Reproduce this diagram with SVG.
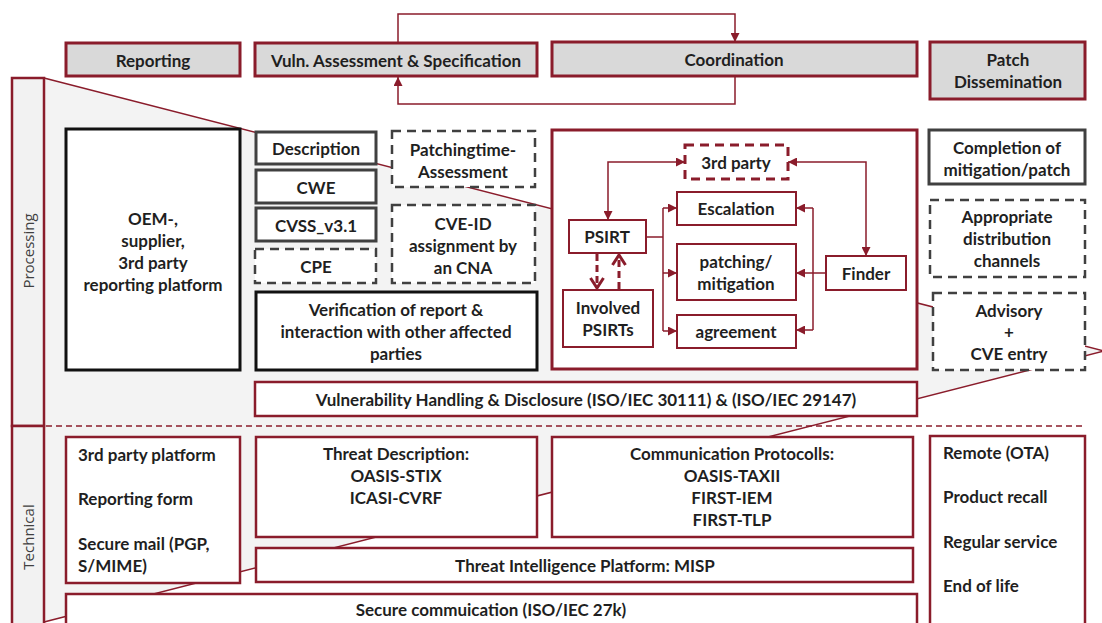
<svg xmlns="http://www.w3.org/2000/svg" width="1102" height="623" viewBox="0 0 1102 623">
<style>
.t{font-family:Lato,"Open Sans",sans-serif;font-weight:bold;font-size:17px;fill:#1f1f1f;text-anchor:middle;dominant-baseline:central}
.l{text-anchor:start}
.side{font-family:"Open Sans",sans-serif;font-weight:normal;font-size:15px;fill:#404040;text-anchor:middle;dominant-baseline:central}
.hdr{fill:#d9d9d9;stroke:#8a1c2b;stroke-width:3}
.rb{fill:#fff;stroke:#8a1c2b;stroke-width:2.5}
.rbt{fill:#fff;stroke:#8a1c2b;stroke-width:2}
.gb{fill:#fff;stroke:#404040;stroke-width:3}
.bb{fill:#fff;stroke:#111;stroke-width:3}
.db{fill:#fff;stroke:#404040;stroke-width:2.5;stroke-dasharray:9 6}
.ln{fill:none;stroke:#8a1c2b;stroke-width:1.5}
.dl{fill:none;stroke:#8a1c2b;stroke-width:3;stroke-dasharray:7 4}
</style>
<defs>
<marker id="ah" markerUnits="userSpaceOnUse" markerWidth="9" markerHeight="9" viewBox="0 0 10 10" refX="10" refY="5" orient="auto-start-reverse">
<path d="M0,0 L10,5 L0,10 z" fill="#8a1c2b"/>
</marker>
<marker id="ch" markerUnits="userSpaceOnUse" markerWidth="16" markerHeight="16" viewBox="0 0 16 16" refX="13" refY="8" orient="auto" overflow="visible">
<path d="M3,1.5 L13,8 L3,14.5" fill="none" stroke="#8a1c2b" stroke-width="3"/>
</marker>
</defs>
<rect x="0" y="0" width="1102" height="623" fill="#fff"/>
<g id="wedge">
<polygon points="44,78 1104,351 44,622" fill="#f3f3f3" stroke="#8a1c2b" stroke-width="1.5"/>
</g>
<g id="lane-processing">
<rect x="12" y="78" width="32" height="348" fill="#f2f2f2" stroke="#8a1c2b" stroke-width="2.5"/>
<text class="side" transform="translate(28,251) rotate(-90)">Processing</text>
</g>
<g id="lane-technical">
<rect x="12" y="426" width="32" height="210" fill="#f2f2f2" stroke="#8a1c2b" stroke-width="2.5"/>
<text class="side" transform="translate(28,537) rotate(-90)">Technical</text>
</g>
<g id="divider">
<line x1="46" y1="426" x2="1086" y2="426" stroke="#8a1c2b" stroke-width="1.5" stroke-dasharray="6 4"/>
</g>
<g id="h-reporting"><rect class="hdr" x="66" y="43" width="174" height="33"/><text class="t" x="153" y="60">Reporting</text></g>
<g id="h-vuln"><rect class="hdr" x="255" y="43" width="282" height="33"/><text class="t" x="396" y="60">Vuln. Assessment &amp; Specification</text></g>
<g id="h-coord"><rect class="hdr" x="552" y="42" width="365" height="34"/><text class="t" x="734" y="59">Coordination</text></g>
<g id="h-patch"><rect class="hdr" x="930" y="42" width="155" height="57"/><text class="t" x="1008" y="59">Patch</text><text class="t" x="1008" y="81">Dissemination</text></g>

<g id="oem"><rect class="bb" x="66" y="129" width="174" height="241"/>
<text class="t" x="153" y="218">OEM-,</text><text class="t" x="153" y="240">supplier,</text><text class="t" x="153" y="262">3rd party</text><text class="t" x="153" y="284">reporting platform</text></g>
<g id="description"><rect class="gb" x="256" y="132" width="120" height="32"/><text class="t" x="316" y="148">Description</text></g>
<g id="cwe"><rect class="gb" x="256" y="170" width="120" height="33"/><text class="t" x="316" y="187">CWE</text></g>
<g id="cvss"><rect class="gb" x="256" y="208" width="120" height="33"/><text class="t" x="316" y="225">CVSS_v3.1</text></g>
<g id="cpe"><rect class="db" x="255" y="249" width="121" height="34"/><text class="t" x="316" y="266">CPE</text></g>
<g id="patchingtime"><rect class="db" x="392" y="131" width="143" height="56"/><text class="t" x="463" y="149">Patchingtime-</text><text class="t" x="463" y="171">Assessment</text></g>
<g id="cveid"><rect class="db" x="392" y="205" width="143" height="78"/><text class="t" x="463" y="223">CVE-ID</text><text class="t" x="463" y="245">assignment by</text><text class="t" x="463" y="267">an CNA</text></g>
<g id="verification"><rect class="bb" x="256" y="292" width="281" height="78"/><text class="t" x="396" y="309">Verification of report &amp;</text><text class="t" x="396" y="331">interaction with other affected</text><text class="t" x="396" y="353">parties</text></g>
<g id="vhd"><rect class="rb" x="255" y="382" width="662" height="34"/><text class="t" x="586" y="399">Vulnerability Handling &amp; Disclosure (ISO/IEC 30111) &amp; (ISO/IEC 29147)</text></g>

<g id="coordination"><rect x="552" y="130" width="365" height="239" fill="#fff" stroke="#8a1c2b" stroke-width="3"/></g>
<g id="thirdparty"><rect x="685" y="145" width="103" height="34" fill="#fff" stroke="#8a1c2b" stroke-width="3" stroke-dasharray="9 6"/><text class="t" x="736" y="162">3rd party</text></g>
<g id="escalation"><rect class="rbt" x="677" y="192" width="119" height="33"/><text class="t" x="736" y="208">Escalation</text></g>
<g id="patching"><rect class="rbt" x="677" y="244" width="119" height="56"/><text class="t" x="736" y="261">patching/</text><text class="t" x="736" y="283">mitigation</text></g>
<g id="agreement"><rect class="rbt" x="677" y="315" width="119" height="33"/><text class="t" x="736" y="331">agreement</text></g>
<g id="psirt"><rect class="rbt" x="569" y="220" width="77" height="33"/><text class="t" x="607" y="236">PSIRT</text></g>
<g id="involved"><rect class="rbt" x="563" y="290" width="90" height="57"/><text class="t" x="608" y="307">Involved</text><text class="t" x="608" y="329">PSIRTs</text></g>
<g id="finder"><rect class="rbt" x="826" y="256" width="80" height="34"/><text class="t" x="866" y="273">Finder</text></g>

<g id="completion"><rect class="gb" x="929" y="130" width="156" height="54"/><text class="t" x="1007" y="147">Completion of</text><text class="t" x="1007" y="169">mitigation/patch</text></g>
<g id="distribution"><rect class="db" x="930" y="200" width="155" height="77"/><text class="t" x="1007" y="216">Appropriate</text><text class="t" x="1007" y="238">distribution</text><text class="t" x="1007" y="260">channels</text></g>
<g id="advisory"><rect class="db" x="933" y="293" width="152" height="77"/><text class="t" x="1009" y="310">Advisory</text><text class="t" x="1009" y="331">+</text><text class="t" x="1009" y="353">CVE entry</text></g>

<g id="t-reporting"><rect class="rb" x="66" y="437" width="174" height="146"/>
<text class="t l" x="78" y="454">3rd party platform</text><text class="t l" x="78" y="498">Reporting form</text><text class="t l" x="78" y="543">Secure mail (PGP,</text><text class="t l" x="78" y="565">S/MIME)</text></g>
<g id="t-threat"><rect class="rb" x="256" y="437" width="281" height="100"/><text class="t" x="396" y="453">Threat Description:</text><text class="t" x="396" y="475">OASIS-STIX</text><text class="t" x="396" y="497">ICASI-CVRF</text></g>
<g id="t-comm"><rect class="rb" x="552" y="437" width="361" height="100"/><text class="t" x="732" y="453">Communication Protocolls:</text><text class="t" x="732" y="475">OASIS-TAXII</text><text class="t" x="732" y="497">FIRST-IEM</text><text class="t" x="732" y="519">FIRST-TLP</text></g>
<g id="t-misp"><rect class="rb" x="256" y="548" width="657" height="34"/><text class="t" x="585" y="565">Threat Intelligence Platform: MISP</text></g>
<g id="t-secure"><rect class="rb" x="66" y="594" width="851" height="50"/><text class="t" x="491" y="609">Secure commuication (ISO/IEC 27k)</text></g>
<g id="t-dissem"><rect class="rb" x="930" y="436" width="155" height="210"/>
<text class="t l" x="943" y="452">Remote (OTA)</text><text class="t l" x="943" y="496">Product recall</text><text class="t l" x="943" y="541">Regular service</text><text class="t l" x="943" y="585">End of life</text></g>

<g id="connectors">
<path class="ln" d="M398,43 V14 H735 V42" marker-end="url(#ah)"/>
<path class="ln" d="M735,76 V104 H398 V77" marker-end="url(#ah)"/>
<path class="ln" d="M608,220 V162 H685" marker-start="url(#ah)" marker-end="url(#ah)"/>
<path class="ln" d="M788,162 H866 V256" marker-start="url(#ah)" marker-end="url(#ah)"/>
<path class="ln" d="M646,237 H663"/>
<path class="ln" d="M663,208 V331"/>
<path class="ln" d="M663,208 H677" marker-end="url(#ah)"/>
<path class="ln" d="M663,273 H677" marker-end="url(#ah)"/>
<path class="ln" d="M663,331 H677" marker-end="url(#ah)"/>
<path class="ln" d="M826,273 H796" marker-end="url(#ah)"/>
<path class="ln" d="M813,208 V330"/>
<path class="ln" d="M813,208 H796" marker-end="url(#ah)"/>
<path class="ln" d="M813,330 H796" marker-end="url(#ah)"/>
<path class="dl" d="M597,254 V288" marker-end="url(#ch)"/>
<path class="dl" d="M619,289 V255" marker-end="url(#ch)"/>
</g>
</svg>
